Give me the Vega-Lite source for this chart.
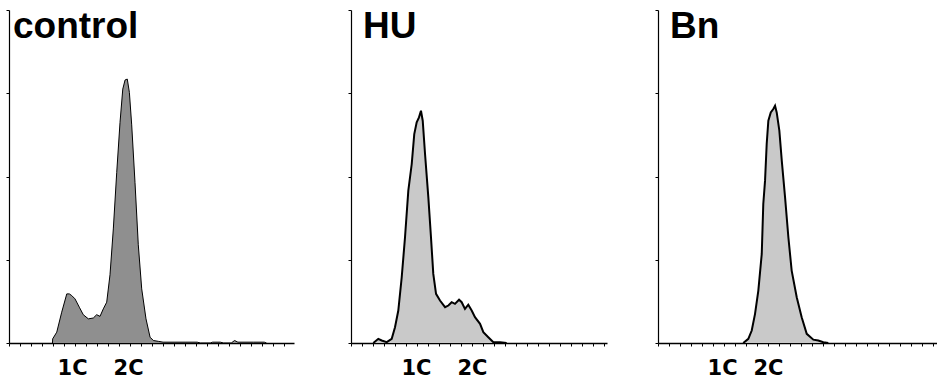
{
  "$schema": "https://vega.github.io/schema/vega-lite/v6.json",
  "padding": {"left": 5, "top": 8, "right": 0, "bottom": 0},
  "background": "white",
  "config": {"view": {"stroke": null}, "axis": {"grid": false}},
  "datasets": {
    "control": [
      {"x": 39.5, "y": 0}, {"x": 39.7, "y": 5}, {"x": 43.4, "y": 13}, {"x": 47.9, "y": 37}, {"x": 52.5, "y": 59},
      {"x": 54.8, "y": 59}, {"x": 57, "y": 57}, {"x": 60, "y": 53}, {"x": 63.9, "y": 43}, {"x": 67.5, "y": 34},
      {"x": 72.1, "y": 29}, {"x": 76.6, "y": 30}, {"x": 79.7, "y": 34}, {"x": 82.7, "y": 32}, {"x": 85.7, "y": 41},
      {"x": 88.8, "y": 49}, {"x": 91.8, "y": 82}, {"x": 94.8, "y": 137}, {"x": 97.9, "y": 205}, {"x": 100.9, "y": 265},
      {"x": 103.4, "y": 305}, {"x": 105.5, "y": 316}, {"x": 107.5, "y": 317}, {"x": 109.4, "y": 301}, {"x": 111.5, "y": 262},
      {"x": 114.5, "y": 193}, {"x": 117.5, "y": 118}, {"x": 120.6, "y": 65}, {"x": 124.5, "y": 29}, {"x": 128.2, "y": 7},
      {"x": 131.2, "y": 3}, {"x": 135.7, "y": 2}, {"x": 140, "y": 1}, {"x": 150, "y": 1}, {"x": 160, "y": 1},
      {"x": 171, "y": 1}, {"x": 174, "y": 0}, {"x": 183, "y": 0}, {"x": 185, "y": 1}, {"x": 192, "y": 1},
      {"x": 195, "y": 0}, {"x": 202, "y": 0}, {"x": 205, "y": 3}, {"x": 208, "y": 1}, {"x": 222, "y": 1},
      {"x": 232, "y": 1}, {"x": 234, "y": 0}
    ],
    "hu": [
      {"x": 20.3, "y": 0}, {"x": 24.8, "y": 5}, {"x": 27.9, "y": 3}, {"x": 32.5, "y": 1}, {"x": 37, "y": 5},
      {"x": 40, "y": 19}, {"x": 43, "y": 39}, {"x": 46.1, "y": 79}, {"x": 49.1, "y": 127}, {"x": 52.1, "y": 183},
      {"x": 55.2, "y": 215}, {"x": 57.5, "y": 251}, {"x": 59.7, "y": 265}, {"x": 61.8, "y": 271}, {"x": 63.6, "y": 279},
      {"x": 65.2, "y": 267}, {"x": 67.3, "y": 227}, {"x": 70.3, "y": 175}, {"x": 72.7, "y": 127}, {"x": 74.8, "y": 83},
      {"x": 77.3, "y": 59}, {"x": 80.9, "y": 51}, {"x": 85.5, "y": 43}, {"x": 88.5, "y": 45}, {"x": 91.5, "y": 49},
      {"x": 94.5, "y": 47}, {"x": 98.2, "y": 52}, {"x": 100.6, "y": 49}, {"x": 103.6, "y": 41}, {"x": 106.6, "y": 46},
      {"x": 109.7, "y": 39}, {"x": 112.7, "y": 31}, {"x": 117.3, "y": 23}, {"x": 120.3, "y": 13}, {"x": 124.8, "y": 7},
      {"x": 129.4, "y": 1}, {"x": 135.5, "y": 1}, {"x": 141.5, "y": 0}
    ],
    "bn": [
      {"x": 77.5, "y": 0}, {"x": 82.1, "y": 5}, {"x": 85.2, "y": 15}, {"x": 88.2, "y": 35}, {"x": 91.2, "y": 63},
      {"x": 94.3, "y": 107}, {"x": 95.7, "y": 167}, {"x": 97.3, "y": 195}, {"x": 98.8, "y": 239}, {"x": 100.3, "y": 267},
      {"x": 102.5, "y": 277}, {"x": 104.8, "y": 281}, {"x": 106.4, "y": 285}, {"x": 107.9, "y": 277}, {"x": 110.3, "y": 255},
      {"x": 112.5, "y": 219}, {"x": 115.5, "y": 175}, {"x": 118.5, "y": 127}, {"x": 121.5, "y": 87}, {"x": 126.1, "y": 55},
      {"x": 130.6, "y": 31}, {"x": 135.2, "y": 11}, {"x": 141.2, "y": 4}, {"x": 145.7, "y": 3}, {"x": 150.3, "y": 1},
      {"x": 154.8, "y": 0}
    ]
  },
  "hconcat": [
    {
      "hconcat": [
        {
          "width": 285, "height": 333,
          "layer": [
            {
              "data": {"name": "control"},
              "mark": {"type": "area", "color": "#8f8f8f", "opacity": 1},
              "encoding": {
                "x": {"field": "x", "type": "quantitative", "scale": {"domain": [0, 259], "nice": false, "zero": false},
                  "axis": {"orient": "bottom", "values": [0,10,20,30,40,50,60,70,80,90,100,110,120,130,140,150,160,170,180,190,200,210,220,230,240,250], "labels": false, "tickSize": 3, "tickColor": "black", "domainColor": "black", "domainWidth": 1.5, "title": null}},
                "y": {"field": "y", "type": "quantitative", "scale": {"domain": [0, 400], "nice": false},
                  "axis": {"values": [0, 100, 200, 300, 400], "labels": false, "tickSize": 3, "tickColor": "black", "domainColor": "black", "domainWidth": 1.2, "title": null}}
              }
            },
            {
              "data": {"name": "control"},
              "mark": {"type": "line", "color": "black", "strokeWidth": 1},
              "encoding": {
                "x": {"field": "x", "type": "quantitative", "scale": {"domain": [0, 259], "nice": false, "zero": false},
                  "axis": {"orient": "bottom", "values": [57.3, 108.2], "labelExpr": "datum.value < 80 ? '1C' : '2C'", "ticks": false, "tickSize": 0, "domain": false, "labelFont": "DejaVu Sans", "labelFontWeight": "bold", "labelFontSize": 21, "labelColor": "black", "labelPadding": 25, "labelBaseline": "middle", "labelFlush": false, "labelOverlap": false, "title": null}},
                "y": {"field": "y", "type": "quantitative", "scale": {"domain": [0, 400], "nice": false},
                  "axis": {"values": [0, 100, 200, 300, 400], "labels": false, "tickSize": 3, "tickColor": "black", "domainColor": "black", "domainWidth": 1.2, "title": null}}
              }
            },
            {
              "data": {"values": [{"name": "control"}]},
              "mark": {"type": "text", "font": "Liberation Sans", "fontSize": 37, "fontWeight": "bold", "color": "black", "align": "left", "baseline": "alphabetic", "dx": 4, "dy": 28},
              "encoding": {
                "x": {"datum": 0, "type": "quantitative", "axis": null},
                "y": {"datum": 400, "type": "quantitative",
                  "axis": {"values": [0, 100, 200, 300, 400], "labels": false, "tickSize": 3, "tickColor": "black", "domainColor": "black", "domainWidth": 1.2, "title": null}},
                "text": {"field": "name"}
              }
            }
          ],
          "resolve": {"axis": {"x": "independent"}}
        },
        {
          "width": 256, "height": 333,
          "layer": [
            {
              "data": {"name": "hu"},
              "mark": {"type": "area", "color": "#c9c9c9", "opacity": 1},
              "encoding": {
                "x": {"field": "x", "type": "quantitative", "scale": {"domain": [0, 232.7], "nice": false, "zero": false},
                  "axis": {"orient": "bottom", "values": [0,10,20,30,40,50,60,70,80,90,100,110,120,130,140,150,160,170,180,190,200,210,220,230], "labels": false, "tickSize": 3, "tickColor": "black", "domainColor": "black", "domainWidth": 1.5, "title": null}},
                "y": {"field": "y", "type": "quantitative", "scale": {"domain": [0, 400], "nice": false},
                  "axis": {"values": [0, 100, 200, 300, 400], "labels": false, "tickSize": 3, "tickColor": "black", "domainColor": "black", "domainWidth": 1.2, "title": null}}
              }
            },
            {
              "data": {"name": "hu"},
              "mark": {"type": "line", "color": "black", "strokeWidth": 2},
              "encoding": {
                "x": {"field": "x", "type": "quantitative", "scale": {"domain": [0, 232.7], "nice": false, "zero": false},
                  "axis": {"orient": "bottom", "values": [59.1, 110], "labelExpr": "datum.value < 80 ? '1C' : '2C'", "ticks": false, "tickSize": 0, "domain": false, "labelFont": "DejaVu Sans", "labelFontWeight": "bold", "labelFontSize": 21, "labelColor": "black", "labelPadding": 25, "labelBaseline": "middle", "labelFlush": false, "labelOverlap": false, "title": null}},
                "y": {"field": "y", "type": "quantitative", "scale": {"domain": [0, 400], "nice": false},
                  "axis": {"values": [0, 100, 200, 300, 400], "labels": false, "tickSize": 3, "tickColor": "black", "domainColor": "black", "domainWidth": 1.2, "title": null}}
              }
            },
            {
              "data": {"values": [{"name": "HU"}]},
              "mark": {"type": "text", "font": "Liberation Sans", "fontSize": 37, "fontWeight": "bold", "color": "black", "align": "left", "baseline": "alphabetic", "dx": 12, "dy": 28},
              "encoding": {
                "x": {"datum": 0, "type": "quantitative", "axis": null},
                "y": {"datum": 400, "type": "quantitative",
                  "axis": {"values": [0, 100, 200, 300, 400], "labels": false, "tickSize": 3, "tickColor": "black", "domainColor": "black", "domainWidth": 1.2, "title": null}},
                "text": {"field": "name"}
              }
            }
          ],
          "resolve": {"axis": {"x": "independent"}}
        }
      ],
      "spacing": 53
    },
    {
      "width": 279, "height": 333,
      "layer": [
        {
          "data": {"name": "bn"},
          "mark": {"type": "area", "color": "#c9c9c9", "opacity": 1},
          "encoding": {
            "x": {"field": "x", "type": "quantitative", "scale": {"domain": [0, 253.6], "nice": false, "zero": false},
              "axis": {"orient": "bottom", "values": [0,10,20,30,40,50,60,70,80,90,100,110,120,130,140,150,160,170,180,190,200,210,220,230,240,250], "labels": false, "tickSize": 3, "tickColor": "black", "domainColor": "black", "domainWidth": 1.5, "title": null}},
            "y": {"field": "y", "type": "quantitative", "scale": {"domain": [0, 400], "nice": false},
              "axis": {"values": [0, 100, 200, 300, 400], "labels": false, "tickSize": 3, "tickColor": "black", "domainColor": "black", "domainWidth": 1.2, "title": null}}
          }
        },
        {
          "data": {"name": "bn"},
          "mark": {"type": "line", "color": "black", "strokeWidth": 2},
          "encoding": {
            "x": {"field": "x", "type": "quantitative", "scale": {"domain": [0, 253.6], "nice": false, "zero": false},
              "axis": {"orient": "bottom", "values": [58.2, 100], "labelExpr": "datum.value < 80 ? '1C' : '2C'", "ticks": false, "tickSize": 0, "domain": false, "labelFont": "DejaVu Sans", "labelFontWeight": "bold", "labelFontSize": 21, "labelColor": "black", "labelPadding": 25, "labelBaseline": "middle", "labelFlush": false, "labelOverlap": false, "title": null}},
            "y": {"field": "y", "type": "quantitative", "scale": {"domain": [0, 400], "nice": false},
              "axis": {"values": [0, 100, 200, 300, 400], "labels": false, "tickSize": 3, "tickColor": "black", "domainColor": "black", "domainWidth": 1.2, "title": null}}
          }
        },
        {
          "data": {"values": [{"name": "Bn"}]},
          "mark": {"type": "text", "font": "Liberation Sans", "fontSize": 37, "fontWeight": "bold", "color": "black", "align": "left", "baseline": "alphabetic", "dx": 12, "dy": 28},
          "encoding": {
            "x": {"datum": 0, "type": "quantitative", "axis": null},
            "y": {"datum": 400, "type": "quantitative",
              "axis": {"values": [0, 100, 200, 300, 400], "labels": false, "tickSize": 3, "tickColor": "black", "domainColor": "black", "domainWidth": 1.2, "title": null}},
            "text": {"field": "name"}
          }
        }
      ],
      "resolve": {"axis": {"x": "independent"}}
    }
  ],
  "spacing": 47
}
